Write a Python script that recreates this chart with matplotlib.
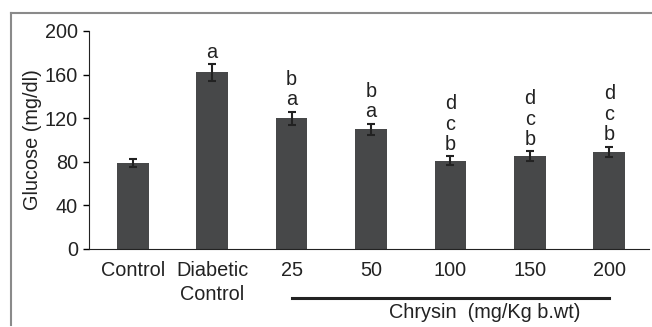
import matplotlib.pyplot as plt
from matplotlib.lines import Line2D

plt.rcParams['font.family'] = ['Liberation Sans', 'DejaVu Sans']

# Data
groups = ["Control", "Diabetic\nControl", "25", "50", "100", "150", "200"]
glucose = [79, 162, 120, 110, 81, 85, 89]
sem = [4, 8, 6, 5, 4, 4.5, 5]
letters = ["", "a", "b\na", "b\na", "d\nc\nb", "d\nc\nb", "d\nc\nb"]

fs = 14.3
txt = "#222222"

fig = plt.figure(figsize=(6.52, 3.27), dpi=100)
ax = fig.add_axes([89 / 652, 1 - 249 / 327, 560 / 652, 218 / 327])

x = range(len(groups))
ax.bar(x, glucose, width=0.4, color="#474849", zorder=2)
ax.errorbar(x, glucose, yerr=sem, fmt="none", ecolor=txt,
            elinewidth=1.5, capsize=3, capthick=1.5, zorder=3)

for i, (v, e, lab) in enumerate(zip(glucose, sem, letters)):
    if lab:
        ax.text(i, v + e + 2, lab, ha="center", va="bottom",
                fontsize=fs, color=txt, linespacing=1.1)

ax.set_xlim(-0.55, 6.5)
ax.set_ylim(0, 200)
ax.set_yticks([0, 40, 80, 120, 160, 200])
ax.set_xticks(list(x))
ax.set_xticklabels(groups, fontsize=fs, color=txt, linespacing=1.3)
ax.tick_params(axis="x", length=0, pad=9)
ax.tick_params(axis="y", labelsize=fs, labelcolor=txt, length=4,
               direction="out", width=1, pad=4)
ax.spines["top"].set_visible(False)
ax.spines["right"].set_visible(False)
ax.spines["left"].set_color(txt)
ax.spines["bottom"].set_color(txt)
ax.set_ylabel("Glucose (mg/dl)", fontsize=fs, color=txt, labelpad=2)

# Chrysin bracket line and label
fig.add_artist(Line2D([292 / 652, 609 / 652], [1 - 298 / 327, 1 - 298 / 327],
                      color=txt, lw=2.2))
fig.text(485 / 652, 1 - 313 / 327, "Chrysin  (mg/Kg b.wt)", ha="center",
         va="center", fontsize=fs, color=txt)

# outer frame (top and left)
fig.add_artist(Line2D([11 / 652, 1], [1 - 13 / 327, 1 - 13 / 327],
                      color="#8a8a8a", lw=1.5))
fig.add_artist(Line2D([11 / 652, 11 / 652], [1 - 13 / 327, 1 - 325 / 327],
                      color="#8a8a8a", lw=1.5))

fig.savefig("out.png", dpi=100)
